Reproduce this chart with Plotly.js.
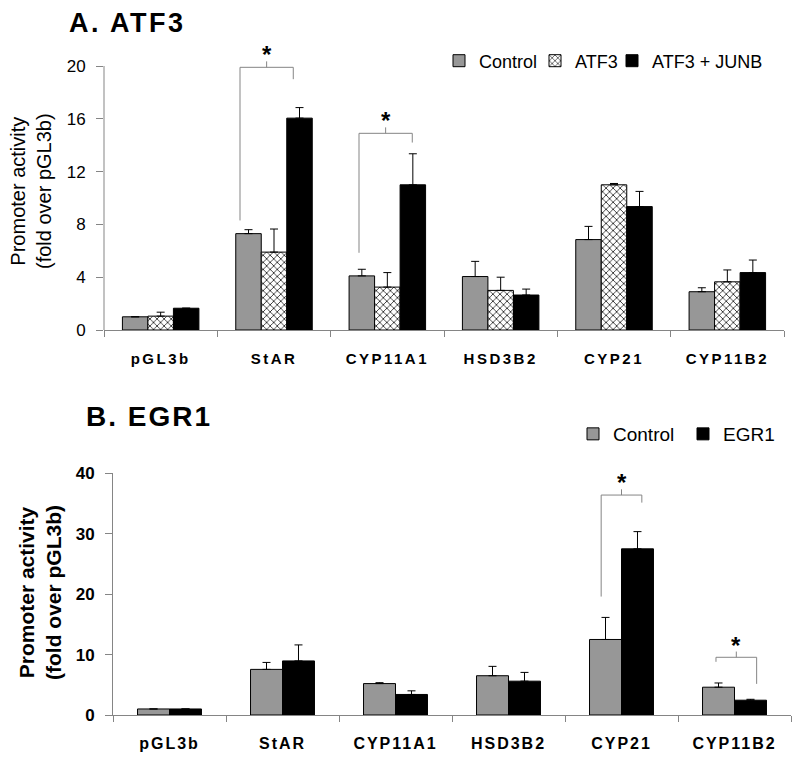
<!DOCTYPE html>
<html>
<head>
<meta charset="utf-8">
<script src="https://cdn.plot.ly/plotly-3.0.1.min.js"></script>
<style>
  html, body { margin: 0; padding: 0; background: #ffffff; }
  #chart { width: 800px; height: 761px; }
  .xtick text { letter-spacing: 2.5px; }
  .x2tick text { letter-spacing: 2px; }
</style>
</head>
<body>
<div id="chart"></div>
<script>
// ---------- data ----------
const categories = ['pGL3b', 'StAR', 'CYP11A1', 'HSD3B2', 'CYP21', 'CYP11B2'];

// Panel A: ATF3
const atfControl     = [1.0, 7.3, 4.1, 4.05, 6.85, 2.9];
const atfControlErr  = [0, 0.3, 0.5, 1.15, 1.0, 0.3];
const atf3           = [1.05, 5.9, 3.25, 3.0, 11.0, 3.65];
const atf3Err        = [0.3, 1.75, 1.1, 1.0, 0.1, 0.9];
const atf3Junb       = [1.65, 16.05, 11.0, 2.65, 9.35, 4.35];
const atf3JunbErr    = [0, 0.8, 2.35, 0.45, 1.15, 0.95];

// Panel B: EGR1
const egrControl     = [1.0, 7.55, 5.2, 6.5, 12.5, 4.6];
const egrControlErr  = [0, 1.15, 0.15, 1.55, 3.65, 0.7];
const egr1           = [1.0, 8.95, 3.4, 5.6, 27.5, 2.45];
const egr1Err        = [0, 2.65, 0.6, 1.45, 2.85, 0.15];

const yTicksA = [0, 4, 8, 12, 16, 20];
const yTicksB = [0, 10, 20, 30, 40];

// significance brackets: category index, left/right offsets, leg bottoms, bracket top
const bracketsA = [
  {cat: 1, dl: -0.30, dr: 0.17, yl: 8.3,  yr: 19.0, top: 19.9},
  {cat: 2, dl: -0.25, dr: 0.22, yl: 5.85, yr: 14.2, top: 14.9}
];
const bracketsB = [
  {cat: 4, dl: -0.18,  dr: 0.18,  yl: 19.6, yr: 35.15, top: 36.4},
  {cat: 5, dl: -0.164, dr: 0.196, yl: 8.8,  yr: 5.15,  top: 9.55}
];

// ---------- styles ----------
const FONT = 'Liberation Sans, Arial, Helvetica, sans-serif';
const GRAY_FILL = '#979797';
const AXIS_GRAY = '#858585';
const wA = 0.225, wB = 0.283;

function errs(arr) {
  return {type: 'data', array: arr, arrayminus: arr.map(() => 0), symmetric: false,
          visible: true, color: '#000000', thickness: 1, width: 4};
}
const outline = {color: '#000000', width: 1};

const traces = [
  {type: 'bar', name: 'Control', x: categories, y: atfControl, xaxis: 'x', yaxis: 'y',
   width: wA, offset: -1.5 * wA, marker: {color: GRAY_FILL, line: outline},
   error_y: errs(atfControlErr), legend: 'legend'},
  {type: 'bar', name: 'ATF3', x: categories, y: atf3, xaxis: 'x', yaxis: 'y',
   width: wA, offset: -0.5 * wA,
   marker: {color: '#ffffff', line: outline,
            pattern: {shape: 'x', size: 5, solidity: 0.3, fgcolor: '#222222', bgcolor: '#ffffff', fillmode: 'replace'}},
   error_y: errs(atf3Err), legend: 'legend2'},
  {type: 'bar', name: 'ATF3 + JUNB', x: categories, y: atf3Junb, xaxis: 'x', yaxis: 'y',
   width: wA, offset: 0.5 * wA, marker: {color: '#000000', line: outline},
   error_y: errs(atf3JunbErr), legend: 'legend3'},
  {type: 'bar', name: 'Control', x: categories, y: egrControl, xaxis: 'x2', yaxis: 'y2',
   width: wB, offset: -wB, marker: {color: GRAY_FILL, line: outline},
   error_y: errs(egrControlErr), legend: 'legend4'},
  {type: 'bar', name: 'EGR1', x: categories, y: egr1, xaxis: 'x2', yaxis: 'y2',
   width: wB, offset: 0, marker: {color: '#000000', line: outline},
   error_y: errs(egr1Err), legend: 'legend5'}
];

const shapes = [];
const annotations = [];
function addBrackets(list, xr, yr, tick, starShift) {
  list.forEach(b => {
    const xl = b.cat + b.dl, xrr = b.cat + b.dr, xm = (xl + xrr) / 2;
    const ln = {color: AXIS_GRAY, width: 1};
    shapes.push({type: 'line', xref: xr, yref: yr, x0: xl, x1: xl, y0: b.yl, y1: b.top, line: ln});
    shapes.push({type: 'line', xref: xr, yref: yr, x0: xl, x1: xrr, y0: b.top, y1: b.top, line: ln});
    shapes.push({type: 'line', xref: xr, yref: yr, x0: xrr, x1: xrr, y0: b.top, y1: b.yr, line: ln});
    shapes.push({type: 'line', xref: xr, yref: yr, x0: xm, x1: xm, y0: b.top, y1: b.top + tick, line: ln});
    annotations.push({xref: xr, yref: yr, x: xm, y: b.top + tick, yanchor: 'bottom', yshift: starShift,
      text: '*', showarrow: false, font: {family: FONT, size: 24, color: '#000000', weight: 'bold'}});
  });
}
addBrackets(bracketsA, 'x', 'y', 0.45, -9);
addBrackets(bracketsB, 'x2', 'y2', 0.95, -9);

// y-axis line of panel A stops at 20
shapes.push({type: 'line', xref: 'x domain', yref: 'y', x0: 0, x1: 0, y0: 0, y1: 20,
             line: {color: AXIS_GRAY, width: 1}});

// panel titles and y-axis titles
annotations.push({xref: 'paper', yref: 'paper', x: 67 / 800, y: 1 - 23 / 761, xanchor: 'left', yanchor: 'middle',
  text: '<span style="letter-spacing:2.5px">A. ATF3</span>', showarrow: false,
  font: {family: FONT, size: 27, color: '#000000', weight: 'bold'}});
annotations.push({xref: 'paper', yref: 'paper', x: 84 / 800, y: 1 - 416 / 761, xanchor: 'left', yanchor: 'middle',
  text: '<span style="letter-spacing:2px">B. EGR1</span>', showarrow: false,
  font: {family: FONT, size: 28, color: '#000000', weight: 'bold'}});
annotations.push({xref: 'paper', yref: 'paper', x: 31 / 800, y: 1 - 191 / 761, xanchor: 'center', yanchor: 'middle',
  text: 'Promoter activity<br>(fold over pGL3b)', textangle: -90, showarrow: false,
  font: {family: FONT, size: 20, color: '#000000'}});
annotations.push({xref: 'paper', yref: 'paper', x: 40 / 800, y: 1 - 593 / 761, xanchor: 'center', yanchor: 'middle',
  text: 'Promoter activity<br>(fold over pGL3b)', textangle: -90, showarrow: false,
  font: {family: FONT, size: 21, color: '#000000', weight: 'bold'}});

function legendAt(px, py, size) {
  return {orientation: 'h', x: px / 800, y: 1 - py / 761, xanchor: 'left', yanchor: 'middle',
    bgcolor: 'rgba(0,0,0,0)', borderwidth: 0,
    font: {family: FONT, size: size, color: '#000000'}};
}

const layout = {
  width: 800, height: 761,
  margin: {l: 0, r: 0, t: 0, b: 0},
  paper_bgcolor: '#ffffff', plot_bgcolor: '#ffffff',
  font: {family: FONT, color: '#000000'},
  barmode: 'overlay',
  showlegend: true,
  xaxis: {domain: [104 / 800, 784 / 800], anchor: 'y', type: 'category', range: [-0.5, 5.5],
    showline: true, linecolor: AXIS_GRAY, linewidth: 1, ticks: 'outside', tickson: 'boundaries',
    ticklen: 6, tickcolor: AXIS_GRAY, showgrid: false, zeroline: false, ticklabelstandoff: 15,
    tickfont: {family: FONT, size: 15, color: '#000000', weight: 'bold'}, fixedrange: true},
  yaxis: {domain: [1 - 330 / 761, 1 - 39.6 / 761], anchor: 'x', range: [0, 22],
    showline: false, ticks: 'outside', ticklen: 7, tickcolor: AXIS_GRAY, tickmode: 'array', tickvals: yTicksA,
    showgrid: false, zeroline: false, ticklabelstandoff: 7,
    tickfont: {family: FONT, size: 17, color: '#000000'}, fixedrange: true},
  xaxis2: {domain: [113 / 800, 791 / 800], anchor: 'y2', type: 'category', range: [-0.5, 5.5],
    showline: true, linecolor: AXIS_GRAY, linewidth: 1, ticks: 'outside', tickson: 'boundaries',
    ticklen: 6, tickcolor: AXIS_GRAY, showgrid: false, zeroline: false, ticklabelstandoff: 14,
    tickfont: {family: FONT, size: 16, color: '#000000', weight: 'bold'}, fixedrange: true},
  yaxis2: {domain: [1 - 715 / 761, 1 - 473.3 / 761], anchor: 'x2', range: [0, 40],
    showline: true, linecolor: AXIS_GRAY, linewidth: 1, ticks: 'outside', ticklen: 7, tickcolor: AXIS_GRAY,
    tickmode: 'array', tickvals: yTicksB, showgrid: false, zeroline: false, ticklabelstandoff: 7,
    tickfont: {family: FONT, size: 17, color: '#000000', weight: 'bold'}, fixedrange: true},
  legend:  legendAt(439, 61, 18),
  legend2: legendAt(535, 61, 18),
  legend3: legendAt(612, 61, 18),
  legend4: legendAt(573, 434, 19),
  legend5: legendAt(683, 434, 19),
  shapes: shapes,
  annotations: annotations
};

Plotly.newPlot('chart', traces, layout, {displayModeBar: false, staticPlot: true});
</script>
</body>
</html>
